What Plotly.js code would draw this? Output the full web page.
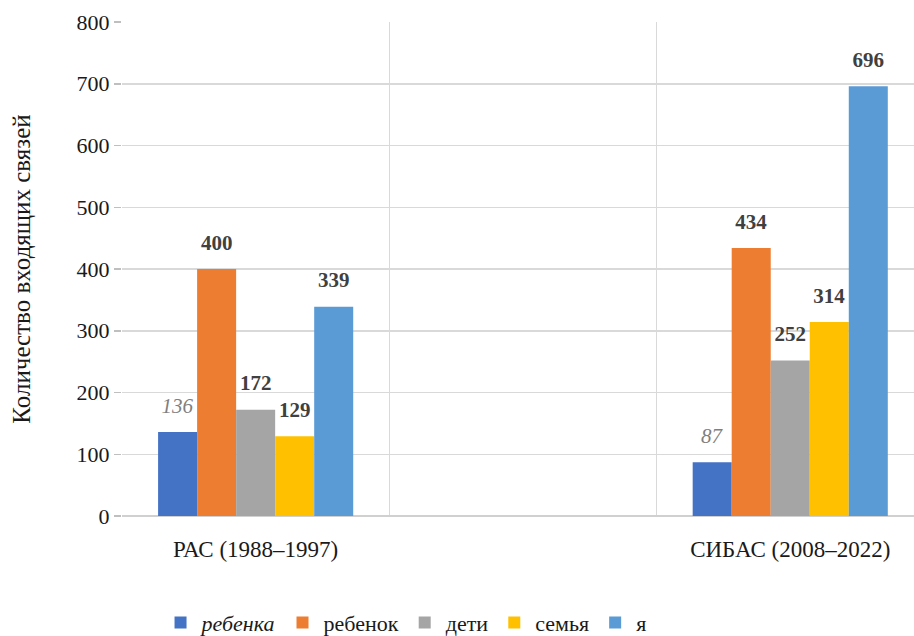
<!DOCTYPE html>
<html><head><meta charset="utf-8">
<script src="https://cdn.plot.ly/plotly-3.0.1.min.js"></script>
<style>html,body{margin:0;padding:0;background:#fff;overflow:hidden}#chart{width:914px;height:636px}</style>
</head><body><div id="chart"></div>
<script>
const categories = ['РАС (1988–1997)', 'СИБАС (2008–2022)'];
const axisCategories = ['РАС (1988–1997)', ' ', 'СИБАС (2008–2022)'];
const seriesNames = ['ребенка', 'ребенок', 'дети', 'семья', 'я'];
const valRebenka = [136, 87];
const valRebenok = [400, 434];
const valDeti = [172, 252];
const valSemya = [129, 314];
const valYa = [339, 696];
const yTicks = [0, 100, 200, 300, 400, 500, 600, 700, 800];
const colors = ['#4472C4', '#ED7D31', '#A5A5A5', '#FFC000', '#5B9BD5'];

const allValues = [valRebenka, valRebenok, valDeti, valSemya, valYa];
const serif = '"Liberation Serif", "Times New Roman", serif';

const traces = allValues.map((vals, i) => ({
  type: 'bar',
  name: i === 0 ? '<i>' + seriesNames[i] + '</i>' : seriesNames[i],
  x: categories,
  y: vals,
  marker: {color: colors[i]},
  text: vals.map(String),
  texttemplate: '<span style="font-size:21px">%{text}</span><br> ',
  textposition: 'outside',
  constraintext: 'none',
  cliponaxis: false,
  textfont: {
    family: serif, size: 11,
    color: i === 0 ? '#7f7f7f' : '#404040',
    weight: i === 0 ? 'normal' : 'bold',
    style: i === 0 ? 'italic' : 'normal'
  },
  hoverinfo: 'x+y'
}));

const layout = {
  width: 914, height: 636,
  margin: {l: 122, r: 0, t: 22, b: 120, autoexpand: false},
  paper_bgcolor: '#fff', plot_bgcolor: '#fff',
  font: {family: serif, color: '#1a1a1a'},
  barmode: 'group', bargap: 0.27, bargroupgap: 0,
  showlegend: true,
  legend: {orientation: 'h', x: 0.358, xanchor: 'center', y: -0.216, yanchor: 'middle',
           itemwidth: 32,
           font: {family: serif, size: 22, color: '#1a1a1a'}, traceorder: 'normal'},
  xaxis: {
    type: 'category', categoryorder: 'array', categoryarray: axisCategories,
    range: [-0.5, 2.463], tickson: 'boundaries', ticks: '',
    showgrid: true, gridcolor: '#d9d9d9', gridwidth: 1.5,
    showline: false, zeroline: false, ticklabelstandoff: 17, automargin: false,
    tickfont: {family: serif, size: 23, color: '#1a1a1a'}
  },
  yaxis: {
    range: [0, 800], tickvals: yTicks, ticktext: yTicks.map(String), automargin: false,
    showgrid: true, gridcolor: '#d9d9d9', gridwidth: 1.5,
    zeroline: true, zerolinecolor: '#d0d0d0', zerolinewidth: 1.5,
    ticks: 'outside', ticklen: 7, tickcolor: '#bfbfbf', tickwidth: 1.5,
    tickfont: {family: serif, size: 22, color: '#1a1a1a'},
    title: {text: 'Количество входящих связей', standoff: 38,
            font: {family: serif, size: 25, color: '#1a1a1a'}}
  }
};

Plotly.newPlot('chart', traces, layout, {displayModeBar: false, staticPlot: true});
</script></body></html>
